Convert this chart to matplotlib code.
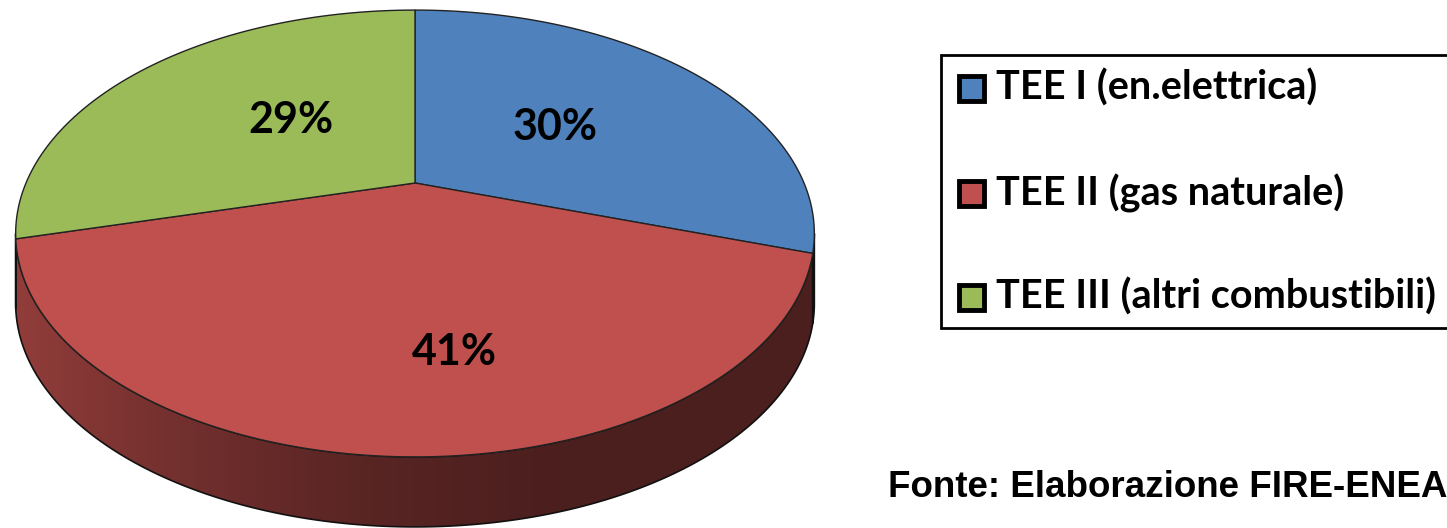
import numpy as np
import matplotlib.pyplot as plt
from matplotlib.patches import Polygon, Rectangle

# shares of certificates by type (percent)
LABELS = ["TEE I (en.elettrica)", "TEE II (gas naturale)", "TEE III (altri combustibili)"]
SHARES = [30, 41, 29]
COLORS = ["#4f81bd", "#c0504d", "#9bbb59"]
SOURCE = "Fonte: Elaborazione FIRE-ENEA"

# canvas in pixels
W, H = 1447, 528

# 3-D pie geometry (pixels): apex, radii, perspective and thickness
CX, CY = 415, 183
RX, RY = 389, 212
PERSP = 0.226
DEPTH = 70

# where the percentage labels sit
LABEL_XY = [(555, 127), (454, 352), (291, 120)]

LABEL_FONT = ["Lato", "DejaVu Sans"]


def project(theta, drop=0.0):
    """Map an angle on the unit disc to screen pixels with a bit of perspective."""
    u, v = np.cos(theta), np.sin(theta)
    w = 1 + PERSP * v
    return CX + RX * u / w, CY - RY * v / w + drop


def shade(color, x):
    """Darken a colour along x, lighter on the left like an Excel 3-D side."""
    rgb = np.array(plt.matplotlib.colors.to_rgb(color))
    t = np.clip((x - 15) / 600.0, 0, 1)
    f = 0.76 - 0.37 * (1 - (1 - t) ** 1.8)
    return rgb[None, :] * f[:, None]


fig = plt.figure(figsize=(W / 100, H / 100), dpi=100)
ax = fig.add_axes([0, 0, 1, 1])
ax.set_xlim(0, W)
ax.set_ylim(H, 0)
ax.axis("off")

# slice angles: start at 12 o'clock and run clockwise
total = float(sum(SHARES))
starts, ends = [], []
a = np.pi / 2
for s in SHARES:
    starts.append(a)
    a -= 2 * np.pi * s / total
    ends.append(a)

# visible front arc of the cylinder wall (between the silhouette extremes)
vis_lo = np.pi + np.arcsin(PERSP)
vis_hi = 2 * np.pi - np.arcsin(PERSP)

# --- side walls ---
xs = np.linspace(0, 840, 400)
for a0, a1, col in zip(starts, ends, COLORS):
    lo, hi = a1, a0
    for shift in (-2 * np.pi, 0, 2 * np.pi, 4 * np.pi):
        l, h = max(lo + shift, vis_lo), min(hi + shift, vis_hi)
        if h <= l:
            continue
        t = np.linspace(l, h, 200)
        tx, ty = project(t)
        bx, by = project(t[::-1], DEPTH)
        pts = np.column_stack([np.concatenate([tx, bx]), np.concatenate([ty, by])])
        wall = Polygon(pts, closed=True, facecolor="none", edgecolor="#111111",
                       linewidth=1.2, zorder=2)
        ax.add_patch(wall)
        grad = shade(col, xs)[None, :, :]
        im = ax.imshow(grad, extent=(0, 840, H, 0), aspect="auto",
                       interpolation="bilinear", zorder=1)
        im.set_clip_path(wall)

# --- top faces ---
for a0, a1, col in zip(starts, ends, COLORS):
    t = np.linspace(a0, a1, 240)
    px, py = project(t)
    pts = np.column_stack([np.concatenate([[CX], px]), np.concatenate([[CY], py])])
    ax.add_patch(Polygon(pts, closed=True, facecolor=col, edgecolor="#222222",
                         linewidth=1.0, zorder=3))

# --- percentage labels ---
for s, (lx, ly) in zip(SHARES, LABEL_XY):
    ax.text(lx, ly, f"{s}%", ha="center", va="center", fontsize=31,
            fontweight="bold", family=LABEL_FONT, color="black", zorder=5)

# --- legend (runs past the right edge) ---
ax.add_patch(Rectangle((941, 55), 560, 273, facecolor="white", edgecolor="black",
                       linewidth=2, zorder=4, clip_on=False))
row_y = [88, 193, 297]
for lab, col, ry in zip(LABELS, COLORS, row_y):
    ax.add_patch(Rectangle((959, ry - 12), 25, 25, facecolor=col, edgecolor="black",
                           linewidth=3.5, zorder=5))
    ax.text(996, ry, lab, ha="left", va="center", fontsize=28.5, fontweight="bold",
            family=LABEL_FONT, color="black", zorder=5)

# --- source note ---
ax.text(888, 497, SOURCE, ha="left", va="baseline", fontsize=26.5, fontweight="bold",
        family=["Liberation Sans", "DejaVu Sans"], color="black", zorder=5)

fig.savefig("out.png", dpi=100)
